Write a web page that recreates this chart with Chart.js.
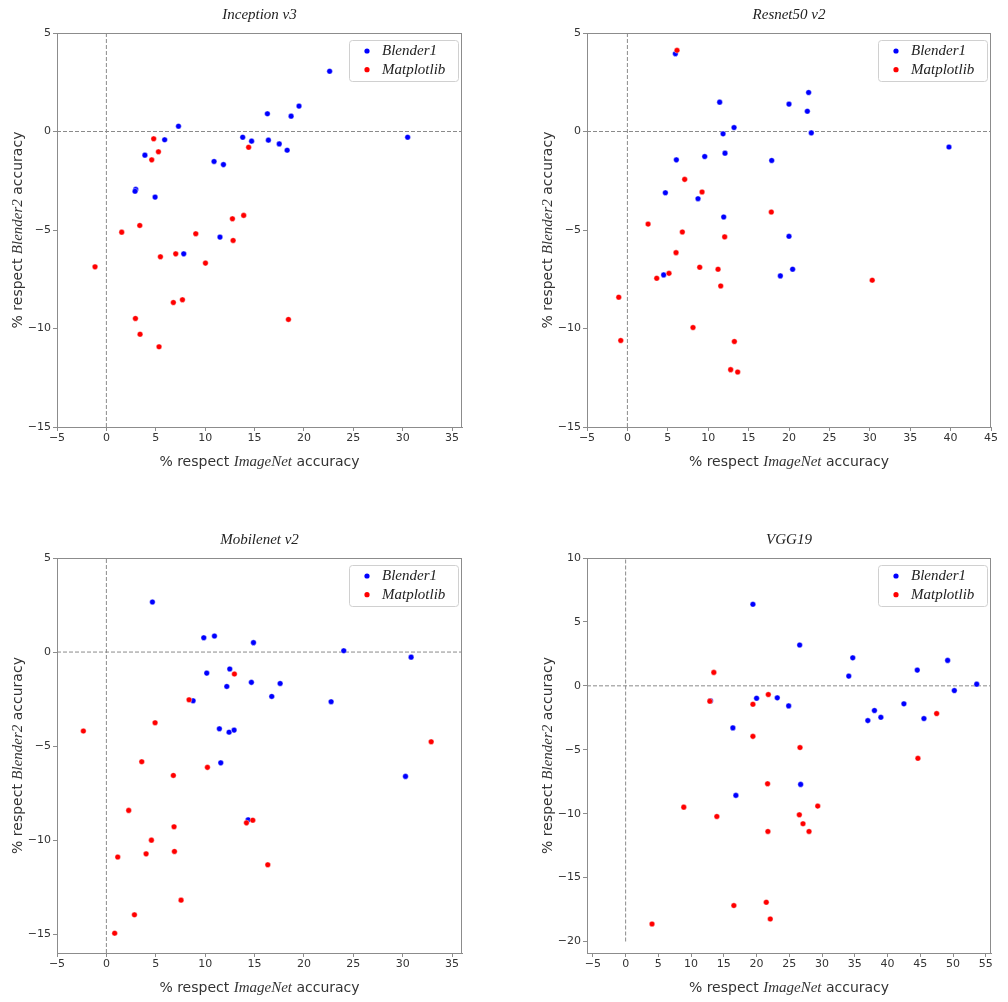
<!DOCTYPE html>
<html><head><meta charset="utf-8">
<script src="https://cdn.jsdelivr.net/npm/chart.js@4/dist/chart.umd.min.js"></script>
<style>
html,body{margin:0;padding:0;background:#fff;}
#wrap{position:relative;width:1008px;height:1002px;background:#fff;}
canvas{position:absolute;}
</style></head><body><div id="wrap">
<canvas id="c0" width="504" height="501" style="left:0;top:0;width:504px;height:501px"></canvas>
<canvas id="c1" width="504" height="501" style="left:504px;top:0;width:504px;height:501px"></canvas>
<canvas id="c2" width="504" height="501" style="left:0;top:501px;width:504px;height:501px"></canvas>
<canvas id="c3" width="504" height="501" style="left:504px;top:501px;width:504px;height:501px"></canvas>
</div>
<script>
// ---------- DATA ----------
const panelTitles = ['Inception v3', 'Resnet50 v2', 'Mobilenet v2', 'VGG19'];
const seriesNames = ['Blender1', 'Matplotlib'];

const inceptionBlender = [[22.6,3.06],[19.5,1.29],[16.3,0.90],[18.7,0.78],[7.3,0.27],[30.5,-0.29],[13.8,-0.29],[14.7,-0.49],[16.4,-0.44],[5.9,-0.42],[17.5,-0.63],[18.3,-0.95],[3.9,-1.2],[10.9,-1.52],[11.85,-1.68],[2.97,-2.94],[2.9,-3.03],[4.93,-3.33],[11.5,-5.36],[7.83,-6.21]];
const inceptionMatplotlib = [[4.79,-0.37],[5.27,-1.03],[4.59,-1.44],[14.4,-0.80],[13.9,-4.26],[12.76,-4.43],[3.38,-4.77],[1.55,-5.11],[9.05,-5.19],[12.83,-5.53],[5.47,-6.36],[7.02,-6.21],[10.03,-6.68],[-1.15,-6.87],[7.7,-8.54],[6.78,-8.68],[2.94,-9.49],[18.43,-9.54],[3.41,-10.29],[5.33,-10.93]];

const resnetBlender = [[5.94,3.95],[11.42,1.49],[20.0,1.39],[22.43,1.98],[22.27,1.03],[13.2,0.20],[11.84,-0.12],[22.76,-0.07],[39.8,-0.79],[6.06,-1.44],[9.57,-1.27],[12.08,-1.10],[17.86,-1.47],[4.7,-3.11],[8.74,-3.41],[11.92,-4.34],[20.0,-5.32],[20.45,-6.99],[18.93,-7.33],[4.49,-7.28]];
const resnetMatplotlib = [[6.14,4.12],[7.09,-2.43],[9.24,-3.07],[2.56,-4.70],[6.8,-5.10],[12.04,-5.35],[17.81,-4.09],[6.02,-6.15],[8.95,-6.89],[11.22,-6.99],[5.15,-7.20],[3.63,-7.45],[11.55,-7.84],[30.3,-7.55],[-1.07,-8.41],[-0.82,-10.61],[8.12,-9.95],[13.24,-10.66],[12.78,-12.09],[13.65,-12.21]];

const mobilenetBlender = [[4.66,2.66],[9.86,0.76],[10.94,0.85],[14.89,0.50],[24.03,0.07],[30.85,-0.27],[10.16,-1.12],[12.49,-0.90],[12.19,-1.83],[14.68,-1.61],[17.59,-1.67],[16.74,-2.36],[22.75,-2.64],[8.78,-2.59],[11.44,-4.08],[12.42,-4.26],[12.93,-4.15],[11.58,-5.89],[30.28,-6.61],[14.35,-8.92]];
const mobilenetMatplotlib = [[12.96,-1.17],[8.37,-2.54],[4.93,-3.76],[-2.33,-4.20],[32.88,-4.77],[3.58,-5.83],[10.23,-6.13],[6.78,-6.56],[2.26,-8.42],[6.85,-9.29],[14.18,-9.08],[14.82,-8.94],[4.56,-10.0],[1.15,-10.9],[4.02,-10.73],[6.89,-10.60],[16.34,-11.31],[7.56,-13.19],[2.84,-13.97],[0.84,-14.95]];

const vggBlender = [[19.44,6.38],[26.58,3.19],[34.69,2.19],[34.08,0.76],[44.54,1.23],[49.18,1.99],[53.62,0.13],[50.2,-0.37],[12.96,-1.18],[20.0,-0.97],[23.16,-0.94],[24.9,-1.57],[42.5,-1.41],[36.99,-2.72],[38.0,-1.93],[38.98,-2.46],[45.56,-2.56],[16.38,-3.29],[26.73,-7.71],[16.84,-8.57]];
const vggMatplotlib = [[13.47,1.05],[12.86,-1.20],[19.44,-1.44],[21.79,-0.68],[47.5,-2.17],[19.44,-3.95],[26.63,-4.83],[44.64,-5.67],[21.68,-7.66],[8.88,-9.49],[13.93,-10.22],[26.53,-10.09],[29.34,-9.41],[27.09,-10.79],[28.01,-11.39],[21.73,-11.39],[16.53,-17.19],[21.48,-16.93],[22.09,-18.24],[4.03,-18.63]];

// tick labels
const xTicksA = [-5,0,5,10,15,20,25,30,35];
const xTicksB = [-5,0,5,10,15,20,25,30,35,40,45];
const xTicksD = [-5,0,5,10,15,20,25,30,35,40,45,50,55];
const yTicksA = [-15,-10,-5,0,5];
const yTicksD = [-20,-15,-10,-5,0,5,10];

// axis limits
const xLimits = [[-5,36],[-5,45],[-5,36],[-5.9,55.8]];
const yLimits = [[-15,5],[-15,5],[-16,5],[-20.9,10]];
const vLineYRange = [null,null,null,[-20,10]];

// ---------- DRAWING ----------
const BLUE = '#0000ff', RED = '#ff0000';
const GRAY = '#8c8c8c';
const SERIF_I = 'italic 15px "Liberation Serif", "DejaVu Serif", serif';
const SANS = '14px "DejaVu Sans", sans-serif';
const SERIF_I_LBL = 'italic 15px "Liberation Serif", "DejaVu Serif", serif';

function fmt(v){ return v < 0 ? '\u2212' + Math.abs(v) : String(v); }
function pts(arr){ return arr.map(p => ({x:p[0], y:p[1]})); }

function drawMixed(ctx, parts, cx, cy){
  let total = 0;
  parts.forEach(p => { ctx.font = p.font; p.w = ctx.measureText(p.text).width; total += p.w; });
  let x = cx - total/2;
  ctx.textBaseline = 'middle'; ctx.textAlign = 'left';
  parts.forEach(p => { ctx.font = p.font; ctx.fillText(p.text, x, cy); x += p.w; });
}

const decorPlugin = {
  id: 'decor',
  afterDraw(chart){
    const ctx = chart.ctx, a = chart.chartArea, o = chart.options.plugins.decor;
    ctx.save();
    // frame
    ctx.strokeStyle = GRAY; ctx.lineWidth = 1;
    ctx.strokeRect(Math.round(a.left)+0.5, Math.round(a.top)+0.5, Math.round(a.right-a.left)-1, Math.round(a.bottom-a.top));
    // title
    ctx.fillStyle = '#222';
    ctx.font = SERIF_I; ctx.textAlign = 'center'; ctx.textBaseline = 'middle';
    ctx.fillText(o.title, (a.left+a.right)/2, a.top - 18);
    // x label
    ctx.fillStyle = '#333';
    drawMixed(ctx, [{text:'% respect ', font:SANS},{text:'ImageNet',font:SERIF_I_LBL},{text:' accuracy',font:SANS}], (a.left+a.right)/2, a.bottom + 35);
    // y label
    ctx.save();
    ctx.translate(a.left - 39, (a.top+a.bottom)/2);
    ctx.rotate(-Math.PI/2);
    drawMixed(ctx, [{text:'% respect ', font:SANS},{text:'Blender2',font:SERIF_I_LBL},{text:' accuracy',font:SANS}], 0, 0);
    ctx.restore();
    // legend
    const w = 109, h = 41;
    const lx = a.right - 4 - w, ly = a.top + 7;
    ctx.beginPath();
    if (ctx.roundRect) ctx.roundRect(lx+0.5, ly+0.5, w, h, 3); else ctx.rect(lx+0.5, ly+0.5, w, h);
    ctx.fillStyle = 'rgba(255,255,255,0.85)'; ctx.fill();
    ctx.strokeStyle = '#d0d0d0'; ctx.lineWidth = 1; ctx.stroke();
    const cols = [BLUE, RED];
    seriesNames.forEach((n, i) => {
      const cy = ly + 11 + i*18.7;
      ctx.beginPath(); ctx.arc(lx + 18, cy, 2.6, 0, Math.PI*2); ctx.fillStyle = cols[i]; ctx.fill();
      ctx.fillStyle = '#222'; ctx.font = SERIF_I; ctx.textAlign = 'left'; ctx.textBaseline = 'middle';
      ctx.fillText(n, lx + 33, cy);
    });
    ctx.restore();
  }
};

function makeChart(idx, blender, matpl, xTicks, yTicks, geom){
  const xl = xLimits[idx], yl = yLimits[idx];
  const vr = vLineYRange[idx] || yl;
  const dash = {type:'line', borderColor:'#8a8a8a', borderWidth:1, borderDash:[4,2], pointRadius:0, fill:false, order:3, showLine:true};
  new Chart(document.getElementById('c'+idx), {
    type:'scatter',
    data:{datasets:[
      Object.assign({label:'h0', data:[{x:xl[0],y:0},{x:xl[1],y:0}]}, dash),
      Object.assign({label:'v0', data:[{x:0,y:vr[0]},{x:0,y:vr[1]}]}, dash),
      {label:seriesNames[0], data:pts(blender), backgroundColor:BLUE, borderColor:'#ffffff', borderWidth:0.4, pointRadius:2.8, order:2},
      {label:seriesNames[1], data:pts(matpl), backgroundColor:RED, borderColor:'#ffffff', borderWidth:0.4, pointRadius:2.8, order:1}
    ]},
    options:{
      responsive:false, animation:false, devicePixelRatio:1,
      layout:{padding:{left:0, top:geom.top, right:geom.right, bottom:0}},
      plugins:{legend:{display:false}, tooltip:{enabled:false}, decor:{title:panelTitles[idx]}},
      scales:{
        x:{type:'linear', min:xl[0], max:xl[1],
           afterBuildTicks: s => { s.ticks = xTicks.map(v => ({value:v})); },
           afterFit: s => { s.height = geom.bottom; },
           ticks:{callback:fmt, font:{family:'DejaVu Sans', size:11}, color:'#333', padding:1, maxRotation:0, autoSkip:false},
           grid:{display:true, drawOnChartArea:false, drawTicks:true, tickLength:4, color:GRAY},
           border:{display:true, color:GRAY}},
        y:{type:'linear', min:yl[0], max:yl[1],
           afterBuildTicks: s => { s.ticks = yTicks.map(v => ({value:v})); },
           afterFit: s => { s.width = geom.left; },
           ticks:{callback:fmt, font:{family:'DejaVu Sans', size:11}, color:'#333', padding:2, autoSkip:false},
           grid:{display:true, drawOnChartArea:false, drawTicks:true, tickLength:4, color:GRAY},
           border:{display:true, color:GRAY}}
      }
    },
    plugins:[decorPlugin]
  });
}

makeChart(0, inceptionBlender, inceptionMatplotlib, xTicksA, yTicksA, {left:57, top:33, right:42, bottom:74});
makeChart(1, resnetBlender, resnetMatplotlib, xTicksB, yTicksA, {left:83, top:33, right:17, bottom:74});
makeChart(2, mobilenetBlender, mobilenetMatplotlib, xTicksA, yTicksA, {left:57, top:57, right:42, bottom:49});
makeChart(3, vggBlender, vggMatplotlib, xTicksD, yTicksD, {left:83, top:57, right:17, bottom:49});
</script>
</body></html>
